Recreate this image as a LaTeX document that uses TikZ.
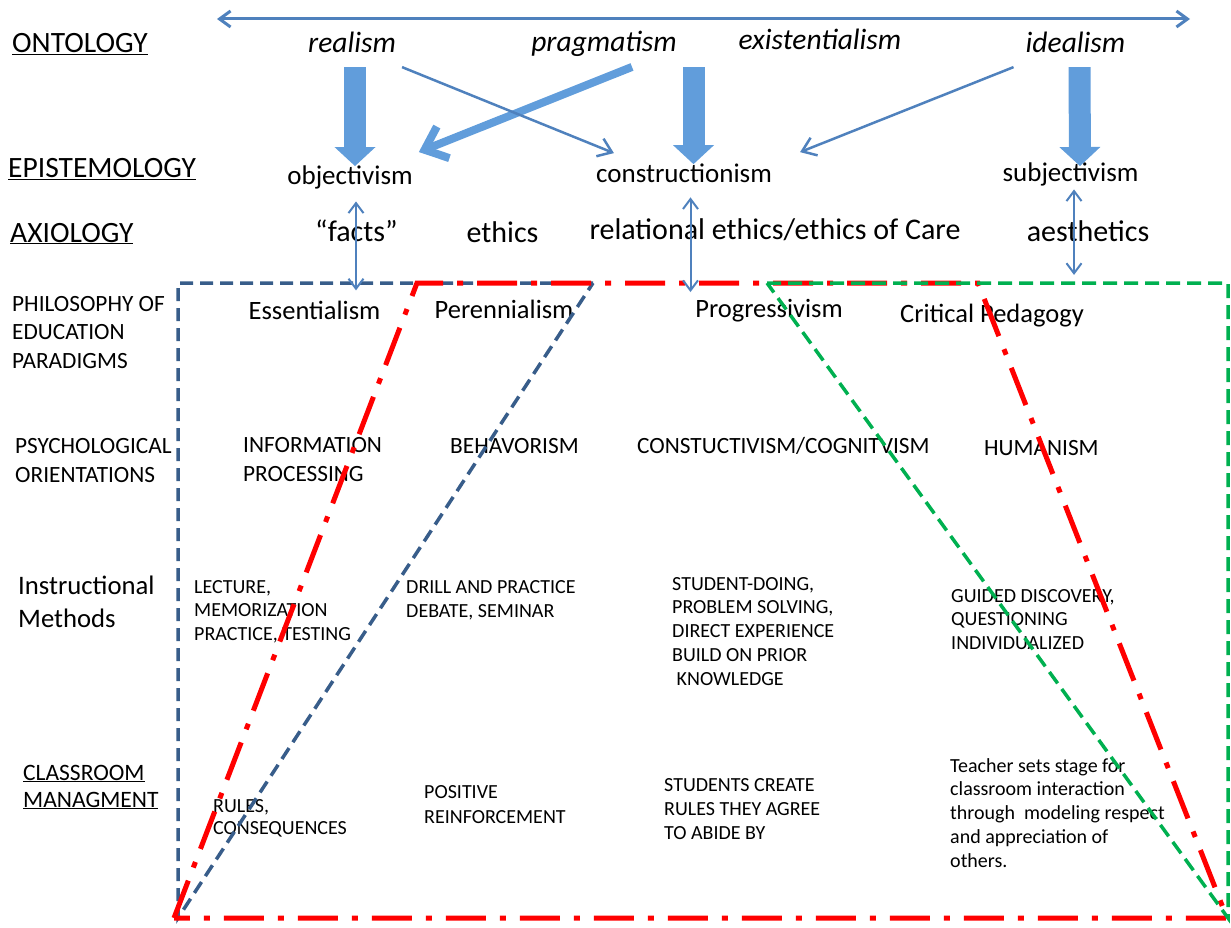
\documentclass[tikz,border=0pt]{standalone}
\usepackage{fontspec}
\setmainfont{Carlito}
\definecolor{ArrowBlue}{HTML}{4F81BD}
\definecolor{BlockBlue}{HTML}{619DDB}
\definecolor{FrameBlue}{HTML}{385D8A}
\definecolor{FrameRed}{HTML}{FF0000}
\definecolor{FrameGreen}{HTML}{00B050}
\usetikzlibrary{arrows.meta,positioning}

\begin{document}
\begin{tikzpicture}[x=1pt,y=-1pt,
        levelname/.style={anchor=base west,inner sep=0pt,
                     font=\fontsize{29.5}{35}\selectfont},
        ontoterm/.style={anchor=base,inner sep=0pt,
                     font=\fontsize{29.5}{35}\selectfont\itshape},
        epiterm/.style={anchor=base,inner sep=0pt,font=\fontsize{27}{32}\selectfont},
        axioterm/.style={anchor=base,inner sep=0pt,font=\fontsize{30}{36}\selectfont},
        paradigm/.style={anchor=base,inner sep=0pt,font=\fontsize{26.5}{32}\selectfont},
        rowname/.style={anchor=base west,inner sep=0pt,align=left,
                     font=\fontsize{23.3}{28.3}\selectfont},
        cell/.style={anchor=base west,inner sep=0pt,align=left,
                     font=\fontsize{20}{23.75}\selectfont},
        ontospan/.style={draw=ArrowBlue,line width=3pt,
                     {Straight Barb[length=11pt,width=16pt]}-{Straight Barb[length=11pt,width=16pt]}},
        twoway/.style={draw=ArrowBlue,line width=2pt,
                     {Straight Barb[length=10pt,width=15pt]}-{Straight Barb[length=10pt,width=15pt]}},
        thinlink/.style={draw=ArrowBlue,line width=2.5pt,-{Straight Barb[length=13pt,width=19pt]}},
        boldlink/.style={draw=BlockBlue,line width=8pt,-{Straight Barb[length=20pt,width=34pt]}},
        fatlink/.style={draw=BlockBlue,line width=22pt,
                     -{Triangle[length=19pt,width=41pt,line width=0pt 0 0]}},
        bluefrm/.style={draw=FrameBlue,line width=3.5pt,dash pattern=on 13pt off 7pt},
        redfrm/.style={draw=FrameRed,line width=5pt,
                     dash pattern=on 40pt off 14pt on 6pt off 14pt},
        greenfrm/.style={draw=FrameGreen,line width=3.5pt,dash pattern=on 14pt off 7pt}]
        \useasboundingbox (0,0) rectangle (1231,928);

        \node[levelname] (ontology) at (12,52.7) {\underline{ONTOLOGY}};
        \node[levelname] (epistemology) at (8,178) {\underline{EPISTEMOLOGY}};
        \node[levelname] (axiology) at (10,242) {\underline{AXIOLOGY}};
        \node[rowname] (paradigms) at (12,368) {PHILOSOPHY OF\\EDUCATION\\PARADIGMS};
        \node[rowname] (psychology) at (15,482) {PSYCHOLOGICAL\\ORIENTATIONS};
        \node[rowname,font=\fontsize{26.7}{33}\selectfont] (methods) at (18,627)
              {Instructional\\Methods};
        \node[rowname,font=\fontsize{23.5}{27}\selectfont] (classroom) at (23,807)
              {\underline{CLASSROOM}\\\underline{MANAGMENT}};

        \node[ontoterm] (realism) at (352,52.7) {realism};
        \node[ontoterm] (pragmatism) at (604,51.7) {pragmatism};
        \node[ontoterm] (existentialism) at (820,50) {existentialism};
        \node[ontoterm] (idealism) at (1075.5,52.7) {idealism};

        \node[epiterm] (objectivism) at (350,185) {objectivism};
        \node[epiterm] (constructionism) at (684,183) {constructionism};
        \node[epiterm] (subjectivism) at (1070.5,182) {subjectivism};

        \node[axioterm] (facts) at (356.5,241) {“facts”};
        \node[axioterm] (ethics) at (502.5,242) {ethics};
        \node[axioterm] (care) at (775,240) {relational ethics/ethics of Care};
        \node[axioterm] (aesthetics) at (1088,241) {aesthetics};

        \node[paradigm] (essentialism) at (314.5,319) {Essentialism};
        \node[paradigm] (perennialism) at (504,318) {Perennialism};
        \node[paradigm] (progressivism) at (769,317) {Progressivism};
        \node[paradigm] (critical) at (992,322) {Critical Pedagogy};

        \node[rowname] (infoproc) at (243,481) {INFORMATION\\PROCESSING};
        \node[rowname] (behaviorism) at (450,453) {BEHAVORISM};
        \node[rowname] (constructivism) at (637,453) {CONSTUCTIVISM/COGNITVISM};
        \node[rowname] (humanism) at (984,455) {HUMANISM};

        \node[cell] (lecture) at (194,640.5) {LECTURE,\\MEMORIZATION\\PRACTICE, TESTING};
        \node[cell] (drill) at (406,617) {DRILL AND PRACTICE\\DEBATE, SEMINAR};
        \node[cell] (doing) at (672,685)
              {STUDENT-DOING,\\PROBLEM SOLVING,\\DIRECT EXPERIENCE\\BUILD ON PRIOR\\\ KNOWLEDGE};
        \node[cell] (guided) at (951,649.5) {GUIDED DISCOVERY,\\QUESTIONING\\INDIVIDUALIZED};

        \node[cell,font=\fontsize{20}{22}\selectfont] (rules) at (213,834)
              {RULES,\\CONSEQUENCES};
        \node[cell,font=\fontsize{20}{25}\selectfont] (positive) at (424,823)
              {POSITIVE\\REINFORCEMENT};
        \node[cell] (create) at (664,839) {STUDENTS CREATE\\RULES THEY AGREE\\TO ABIDE BY};
        \node[cell] (teacher) at (950,867)
              {Teacher sets stage for\\classroom interaction\\through\ \ modeling respect\\and appreciation of\\others.};

        \draw[bluefrm] (593,283) -- (178,283) -- (178,918) -- cycle;
        \draw[redfrm] (174,918) -- (417,283) -- (978,283) -- (1227,918) -- cycle;
        \draw[greenfrm] (767,283) -- (1228,283) -- (1228,918) -- cycle;

        \coordinate (spanleft) at (217,19);
        \coordinate (spanright) at (1190,19);
        \draw[ontospan] (spanleft) -- (spanright);

        \draw[fatlink] ([xshift=3pt,yshift=-14pt]realism.south)
              -- ([xshift=5pt]objectivism.north);
        \draw[fatlink] ([xshift=9.5pt,yshift=-14pt]constructionism.north |- realism.south)
              -- ([xshift=9.5pt]constructionism.north);
        \draw[fatlink] ([xshift=4pt,yshift=-14pt]idealism.south)
              -- ([xshift=9.5pt,yshift=-3pt]subjectivism.north);
        \draw[boldlink] ([xshift=28pt,yshift=-10pt]pragmatism.south)
              -- ([xshift=6pt,yshift=14pt]objectivism.north east);
        \draw[thinlink] ([xshift=6pt,yshift=-14pt]realism.south east)
              -- ([xshift=18pt,yshift=11pt]constructionism.north west);
        \draw[thinlink] ([xshift=-12pt,yshift=-14pt]idealism.south west)
              -- ([xshift=28pt,yshift=12pt]constructionism.north east);
        \foreach \u/\v/\dx/\dya/\dyb in {objectivism/essentialism/6/-11.6/10,
              constructionism/progressivism/6.5/-14/6.5,
              subjectivism/critical/3.5/-2.6/28.5}{
          \draw[twoway] ([xshift=\dx pt,yshift=\dya pt]\u.south)
              -- ([xshift=\dx pt,yshift=\dyb pt]\u.south |- \v.north);
        }
      \end{tikzpicture}
\end{document}
